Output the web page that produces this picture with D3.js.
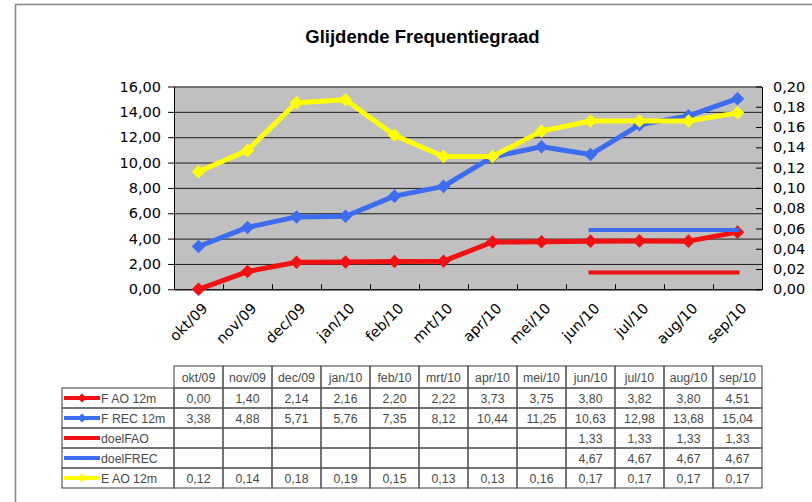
<!DOCTYPE html>
<html>
<head>
<meta charset="utf-8">
<script src="https://cdn.jsdelivr.net/npm/d3@7"></script>
<style>
    body { margin: 0; background: #fff; }
    svg { display: block; }
    .axis text { font-family: "DejaVu Sans", sans-serif; font-size: 14.5px; fill: #000; }
    .axis path, .axis line { stroke: #000; }
    .tbl text { font-family: "Liberation Sans", Arial, sans-serif; font-size: 12.3px; fill: #4a4a4a; }
</style>
</head>
<body>
<div id="chart"></div>
<script>
const categories = ['okt/09', 'nov/09', 'dec/09', 'jan/10', 'feb/10', 'mrt/10',
    'apr/10', 'mei/10', 'jun/10', 'jul/10', 'aug/10', 'sep/10'];
const fAO = [0.00, 1.40, 2.14, 2.16, 2.20, 2.22, 3.73, 3.75, 3.80, 3.82, 3.80, 4.51];
const fREC = [3.38, 4.88, 5.71, 5.76, 7.35, 8.12, 10.44, 11.25, 10.63, 12.98, 13.68, 15.04];
const doelFAO = [null, null, null, null, null, null, null, null, 1.33, 1.33, 1.33, 1.33];
const doelFREC = [null, null, null, null, null, null, null, null, 4.67, 4.67, 4.67, 4.67];
const eAO = [0.116, 0.137, 0.184, 0.187, 0.152, 0.131, 0.131, 0.156, 0.166, 0.166, 0.166, 0.174];
const leftTicks = [0, 2, 4, 6, 8, 10, 12, 14, 16];
const rightTicks = [0, 0.02, 0.04, 0.06, 0.08, 0.10, 0.12, 0.14, 0.16, 0.18, 0.20];

const series = [
    { name: 'F AO 12m', values: fAO, color: '#f01212', axis: 'left', marker: true },
    { name: 'F REC 12m', values: fREC, color: '#3c6cf0', axis: 'left', marker: true },
    { name: 'doelFAO', values: doelFAO, color: '#f01212', axis: 'left', marker: false },
    { name: 'doelFREC', values: doelFREC, color: '#3c6cf0', axis: 'left', marker: false },
    { name: 'E AO 12m', values: eAO, color: '#ffff00', axis: 'right', marker: true }
];

const width = 812;
const height = 502;
const plot = { left: 174, right: 762, top: 86.5, bottom: 289.3 };

const fmt = (v) => v.toFixed(2).replace('.', ',');

const svg = d3.select('#chart').append('svg')
    .attr('width', width)
    .attr('height', height);

// frame
svg.append('rect')
    .attr('x', 15.5).attr('y', 4.5)
    .attr('width', 900).attr('height', 600)
    .attr('fill', '#fff')
    .attr('stroke', '#8a8a8a')
    .attr('stroke-width', 1.6);

svg.append('text')
    .attr('x', 422.5).attr('y', 42.7)
    .attr('text-anchor', 'middle')
    .style('font-family', '"Liberation Sans", Arial, sans-serif')
    .style('font-weight', 'bold')
    .style('font-size', '18.5px')
    .text('Glijdende Frequentiegraad');

const x = d3.scaleBand()
    .domain(categories)
    .range([plot.left, plot.right]);
const cx = (d) => x(d) + x.bandwidth() / 2;

const yL = d3.scaleLinear().domain([0, 16]).range([plot.bottom, plot.top]);
const yR = d3.scaleLinear().domain([0, 0.20]).range([plot.bottom, plot.top]);

svg.append('rect')
    .attr('x', plot.left).attr('y', plot.top)
    .attr('width', plot.right - plot.left)
    .attr('height', plot.bottom - plot.top)
    .attr('fill', '#c0c0c0');

// gridlines
const grid = svg.append('g')
    .attr('transform', `translate(${plot.left}, 0)`)
    .call(d3.axisLeft(yL).tickValues(leftTicks).tickSize(-(plot.right - plot.left)).tickFormat(''));
grid.select('.domain').remove();
grid.selectAll('line').attr('stroke', '#1a1a1a').attr('stroke-width', 1);

// left axis
svg.append('g')
    .attr('class', 'axis')
    .attr('transform', `translate(${plot.left}, 0)`)
    .call(d3.axisLeft(yL).tickValues(leftTicks).tickSize(6).tickSizeOuter(0).tickPadding(7).tickFormat(fmt));

// right axis
svg.append('g')
    .attr('class', 'axis')
    .attr('transform', `translate(${plot.right}, 0)`)
    .call(d3.axisRight(yR).tickValues(rightTicks).tickSize(-6).tickSizeOuter(0).tickPadding(11).tickFormat(fmt));

// bottom axis: boundary ticks inward
const xb = d3.scaleLinear().domain([0, categories.length]).range([plot.left, plot.right]);
svg.append('g')
    .attr('class', 'axis')
    .attr('transform', `translate(0, ${plot.bottom})`)
    .call(d3.axisBottom(xb).tickValues(d3.range(1, categories.length)).tickSize(-5).tickSizeOuter(0).tickFormat(''));

// category labels
const xAxis = svg.append('g')
    .attr('class', 'axis')
    .attr('transform', `translate(0, ${plot.bottom})`)
    .call(d3.axisBottom(x).tickSize(0).tickFormat((d) => d));
xAxis.select('.domain').remove();
xAxis.selectAll('text')
    .attr('text-anchor', 'end')
    .attr('dy', null)
    .attr('y', 0)
    .attr('transform', 'translate(10, 20) rotate(-45)');

// series
const marker = d3.symbol().type(d3.symbolSquare).size(92);
const gSeries = svg.append('g');
series.forEach((s) => {
    const y = s.axis === 'left' ? yL : yR;
    const pts = categories.map((c, i) => ({ c, v: s.values[i] })).filter((p) => p.v !== null);
    const line = d3.line().x((p) => cx(p.c)).y((p) => y(p.v));
    gSeries.append('path')
        .datum(pts)
        .attr('d', line)
        .attr('fill', 'none')
        .attr('stroke', s.color)
        .attr('stroke-width', s.marker ? 5 : 4)
        .attr('stroke-linejoin', 'round')
        .attr('stroke-linecap', s.marker ? 'round' : 'square');
    if (s.marker) {
        gSeries.selectAll(null)
            .data(pts)
            .enter()
            .append('path')
            .attr('d', marker)
            .attr('fill', s.color)
            .attr('transform', (p) => `translate(${cx(p.c)}, ${y(p.v)}) rotate(45)`);
    }
});

// data table
const tbl = svg.append('g').attr('class', 'tbl');
const headTop = 366;
const headH = 22;
const rowH = 20;
const labelLeft = 62;
const lineCol = '#5a5a5a';

categories.forEach((c) => {
    tbl.append('rect')
        .attr('x', x(c)).attr('y', headTop)
        .attr('width', x.bandwidth()).attr('height', headH)
        .attr('fill', 'none').attr('stroke', lineCol).attr('stroke-width', 1.2);
    tbl.append('text')
        .attr('x', cx(c)).attr('y', headTop + 16)
        .attr('text-anchor', 'middle')
        .text(c);
});

series.forEach((s, r) => {
    const top = headTop + headH + r * rowH;
    const mid = top + rowH / 2;
    tbl.append('rect')
        .attr('x', labelLeft).attr('y', top)
        .attr('width', plot.left - labelLeft).attr('height', rowH)
        .attr('fill', 'none').attr('stroke', lineCol).attr('stroke-width', 1.2);
    tbl.append('line')
        .attr('x1', labelLeft + 2).attr('x2', labelLeft + 38)
        .attr('y1', mid).attr('y2', mid)
        .attr('stroke', s.color).attr('stroke-width', 4);
    if (s.marker) {
        tbl.append('path')
            .attr('d', d3.symbol().type(d3.symbolSquare).size(40))
            .attr('fill', s.color)
            .attr('transform', `translate(${labelLeft + 20}, ${mid}) rotate(45)`);
    }
    tbl.append('text')
        .attr('x', labelLeft + 39).attr('y', mid + 4.5)
        .text(s.name);
    categories.forEach((c, i) => {
        tbl.append('rect')
            .attr('x', x(c)).attr('y', top)
            .attr('width', x.bandwidth()).attr('height', rowH)
            .attr('fill', 'none').attr('stroke', lineCol).attr('stroke-width', 1.2);
        if (s.values[i] !== null) {
            tbl.append('text')
                .attr('x', cx(c)).attr('y', mid + 4.5)
                .attr('text-anchor', 'middle')
                .text(fmt(s.values[i]));
        }
    });
});
</script>
</body>
</html>
